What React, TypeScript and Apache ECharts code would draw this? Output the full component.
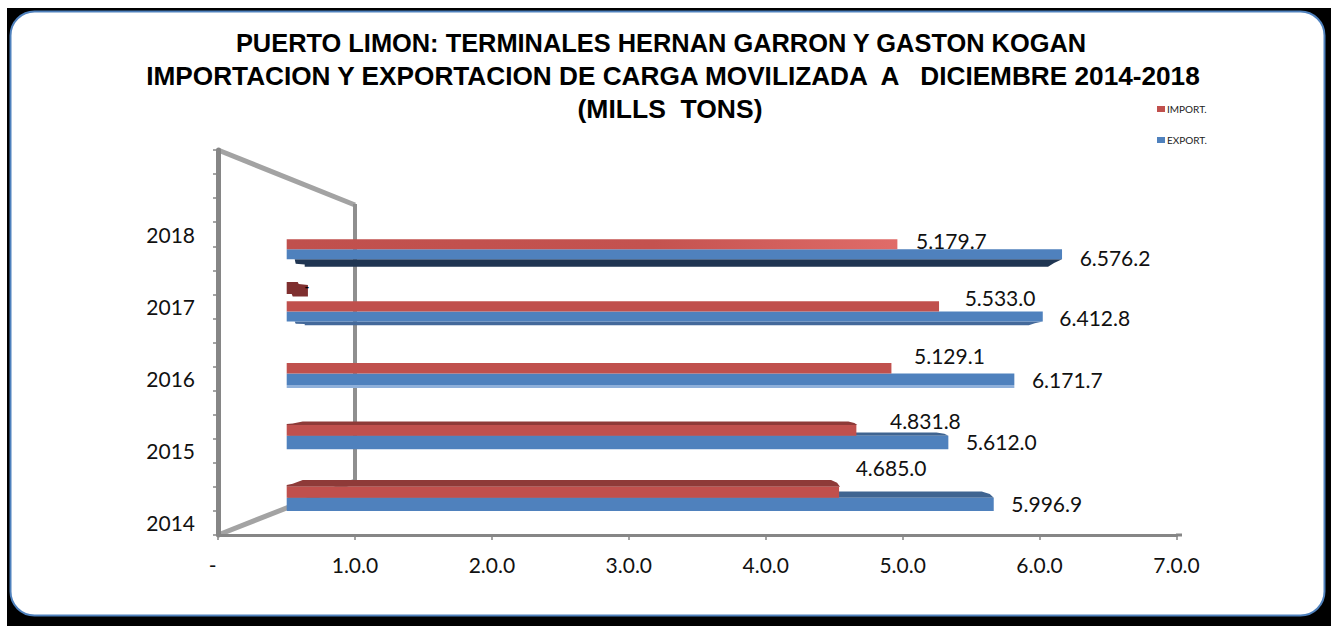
import React, { useEffect, useRef } from "react";
import * as echarts from "echarts";

const years = ["2014", "2015", "2016", "2017", "2018"];
const importValues = [4685.0, 4831.8, 5129.1, 5533.0, 5179.7];
const exportValues = [5996.9, 5612.0, 6171.7, 6412.8, 6576.2];
const strayValues = [180];
const titleLines = [
  "PUERTO LIMON: TERMINALES HERNAN GARRON Y GASTON KOGAN",
  "IMPORTACION Y EXPORTACION DE CARGA MOVILIZADA  A   DICIEMBRE 2014-2018",
  "(MILLS  TONS)",
];
const xTicks = [0, 1000, 2000, 3000, 4000, 5000, 6000, 7000];

// Hand-placed data-label nudges of the original, per year (dx from bar end, dy from band centre)
const importLabelNudge = [[52, -30], [69, -15], [58, -18.5], [61, -14], [54, -8.5]];
const exportLabelNudge = [[53, 5.5], [53, 6.3], [53, 5.8], [52, 6], [53, 8.3]];

// Three wall-axis slots per year, plus the spare one above 2018
const axisSlots = years.flatMap((y) => [y, "", ""]).concat([""]);

const RED = "#c0504d";
const BLUE = "#4f81bd";
const RED_TOP = "#8e3a38";
const BLUE_TOP = "#3f6491";
const BLUE_UNDER = ["", "", "#8fb0da", "#44699a", "#1f3552"];
const LABEL_FONT = "Lato";
const NEUTRAL_Y = 373.5;

const fmt = (v: number) => {
  const s = v.toFixed(1);
  return s.slice(0, -5) + "." + s.slice(-5);
};

const labelEl = (text: string, x: number, y: number) => ({
  type: "text",
  style: {
    text,
    x,
    y,
    align: "center",
    verticalAlign: "middle",
    font: `21px ${LABEL_FONT}`,
    fill: "#111",
  },
});

const poly = (points: number[][], fill: any) => ({
  type: "polygon",
  shape: { points },
  style: { fill },
});

const renderImport = (params: any, api: any) => {
  const i = params.dataIndex;
  const end = api.coord([api.value(0), api.value(1)]);
  const x0 = api.coord([0, api.value(1)])[0];
  const cy = end[1];
  const h = 10 + (cy - 249) * 0.004;
  const top = cy - h;
  const d = Math.max(0, (cy - NEUTRAL_Y) * 0.054);
  const children: any[] = [];
  if (d > 0) {
    children.push(
      poly(
        [[x0, top], [x0, top - d * 0.25], [x0 + 6, top - d * 0.45], [x0 + 16, top - d], [end[0] - 8, top - d], [end[0] - 2, top - d * 0.6], [end[0] + 1, top]],
        RED_TOP
      )
    );
  }
  const fill =
    i === 4
      ? new echarts.graphic.LinearGradient(0, 0, 1, 0, [
          { offset: 0, color: RED },
          { offset: 0.6, color: "#c4524f" },
          { offset: 1, color: "#e06c69" },
        ])
      : RED;
  children.push({ type: "rect", shape: { x: x0, y: top, width: end[0] - x0, height: h }, style: { fill } });
  const n = importLabelNudge[i];
  children.push(labelEl(fmt(api.value(0)), end[0] + n[0], cy + n[1]));
  return { type: "group", children };
};

const renderExport = (params: any, api: any) => {
  const i = params.dataIndex;
  const end = api.coord([api.value(0), api.value(1)]);
  const x0 = api.coord([0, api.value(1)])[0];
  const cy = end[1];
  const h = i === 0 ? 13.3 : i === 1 ? 13.6 : i === 2 ? 11.5 : 10;
  const bottom = cy + h;
  const children: any[] = [];
  const k = cy - NEUTRAL_Y;
  if (k > 0) {
    const d = k * 0.05;
    children.push(
      poly(
        [[x0, cy], [x0 + 16, cy - d], [end[0] - 12, cy - d], [end[0] - 4, cy - d * 0.6], [end[0], cy]],
        BLUE_TOP
      )
    );
  } else if (Math.abs(k) < 1) {
    children.push(poly([[x0, cy], [x0, cy - 1], [end[0] - 11, cy - 1], [end[0], cy]], BLUE_TOP));
  }
  const und = k < 1 ? (k > -1 ? 3 : -k * 0.06) : 0;
  if (und > 0) {
    const col = BLUE_UNDER[i];
    if (k > -1) {
      children.push(poly([[x0, bottom], [x0, bottom + und], [end[0], bottom + und], [end[0], bottom]], col));
    } else {
      children.push(
        poly(
          [[x0 + 8, bottom], [x0 + 9, bottom + und * 0.6], [x0 + 18, bottom + und * 0.7], [x0 + 18, bottom + und], [end[0] - 14, bottom + und], [end[0] - 8, bottom + und * 0.5], [end[0], bottom]],
          col
        )
      );
    }
  }
  children.push({ type: "rect", shape: { x: x0, y: cy, width: end[0] - x0, height: h }, style: { fill: BLUE } });
  const n = exportLabelNudge[i];
  children.push(labelEl(fmt(api.value(0)), end[0] + n[0], cy + n[1]));
  return { type: "group", children };
};

const renderStray = (_params: any, api: any) => {
  const end = api.coord([api.value(0), api.value(1)]);
  const x0 = api.coord([0, api.value(1)])[0];
  const y = end[1] - 29.5;
  return {
    type: "group",
    children: [
      poly(
        [[x0, y], [x0 + 11, y], [x0 + 12, y + 2], [end[0], y + 3], [end[0], y + 14.5], [x0 + 6, y + 14.5], [x0 + 5, y + 12], [x0, y + 12]],
        "#7f2f2f"
      ),
      {
        type: "text",
        style: { text: "-", x: end[0] - 1, y: y + 5, align: "center", verticalAlign: "middle", font: `bold 13px ${LABEL_FONT}`, fill: "#000" },
      },
    ],
  };
};

const titleStyle = (fontSize: number) => ({
  fontFamily: "Liberation Sans",
  fontWeight: "bold" as const,
  fontSize,
  color: "#000",
});

export default function App() {
  const ref = useRef<HTMLDivElement>(null);
  useEffect(() => {
    document.body.style.margin = "0";
    document.body.style.background = "#fff";
    const chart = echarts.init(ref.current!, undefined, { renderer: "svg" });
    chart.setOption({
      animation: false,
      backgroundColor: "#ffffff",
      title: [
        { text: titleLines[0], left: 661, top: 43, textAlign: "center", textVerticalAlign: "middle", textStyle: titleStyle(25.4), padding: 0 },
        { text: titleLines[1], left: 673, top: 76, textAlign: "center", textVerticalAlign: "middle", textStyle: titleStyle(26.2), padding: 0 },
        { text: titleLines[2], left: 670, top: 109, textAlign: "center", textVerticalAlign: "middle", textStyle: titleStyle(26.5), padding: 0 },
      ],
      legend: {
        orient: "vertical",
        left: 1157,
        top: 104,
        padding: 0,
        itemWidth: 8,
        itemHeight: 6,
        itemGap: 21,
        selectedMode: false,
        icon: "rect",
        data: ["IMPORT.", "EXPORT."],
        textStyle: { fontFamily: LABEL_FONT, fontSize: 10, color: "#222", padding: [0, 0, 0, -3] },
      },
      graphic: [
        { type: "rect", z: -5, silent: true, shape: { x: 7, y: 8, width: 1324, height: 618 }, style: { fill: "#000" } },
        {
          type: "rect",
          z: -4,
          silent: true,
          shape: { x: 10.5, y: 11.5, width: 1314, height: 604, r: 24 },
          style: { fill: "#fff", stroke: "#4f81bd", lineWidth: 2 },
        },
        {
          type: "polyline",
          z: -3,
          silent: true,
          shape: { points: [[218, 150], [355, 205]] },
          style: { fill: "none", stroke: "#a3a3a3", lineWidth: 5 },
        },
        {
          type: "polyline",
          z: -3,
          silent: true,
          shape: { points: [[218, 535], [355, 481]] },
          style: { fill: "none", stroke: "#a3a3a3", lineWidth: 5 },
        },
        {
          type: "line",
          z: -3,
          silent: true,
          shape: { x1: 355, y1: 204, x2: 355, y2: 482 },
          style: { stroke: "#8f8f8f", lineWidth: 4 },
        },
        {
          type: "line",
          z: -3,
          silent: true,
          shape: { x1: 1176, y1: 535, x2: 1182, y2: 535 },
          style: { stroke: "#868686", lineWidth: 3 },
        },
      ],
      grid: [
        { left: 218, top: 150, width: 958.5, height: 385 },
        { left: 286.7, top: 218.3, width: 825.3, height: 310.5 },
      ],
      xAxis: [
        {
          type: "value",
          gridIndex: 0,
          min: xTicks[0],
          max: xTicks[xTicks.length - 1],
          interval: 1000,
          splitLine: { show: false },
          axisLine: { show: true, lineStyle: { color: "#868686", width: 3 } },
          axisTick: { show: true, length: 5, lineStyle: { color: "#868686", width: 1.5 } },
          axisLabel: {
            margin: 19,
            color: "#111",
            fontFamily: LABEL_FONT,
            fontSize: 21,
            formatter: (v: number) => (v === 0 ? "-  " : `${v / 1000}.0.0`),
          },
        },
        { type: "value", gridIndex: 1, min: 0, max: 7000, show: false },
      ],
      yAxis: [
        {
          type: "category",
          gridIndex: 0,
          data: axisSlots,
          boundaryGap: true,
          axisLine: { show: true, lineStyle: { color: "#868686", width: 5 } },
          axisTick: { show: true, length: 5, interval: 0, lineStyle: { color: "#868686", width: 1.5 } },
          axisLabel: { interval: 0, margin: 23, color: "#111", fontFamily: LABEL_FONT, fontSize: 21 },
        },
        { type: "category", gridIndex: 1, data: years, show: false },
      ],
      series: [
        {
          name: "EXPORT.",
          type: "custom",
          xAxisIndex: 1,
          yAxisIndex: 1,
          z: 3,
          itemStyle: { color: BLUE },
          encode: { x: 0, y: 1 },
          data: exportValues.map((v, i) => [v, years[i]]),
          renderItem: renderExport,
        },
        {
          name: "IMPORT.",
          type: "custom",
          xAxisIndex: 1,
          yAxisIndex: 1,
          z: 4,
          itemStyle: { color: RED },
          encode: { x: 0, y: 1 },
          data: importValues.map((v, i) => [v, years[i]]),
          renderItem: renderImport,
        },
        {
          name: "stray",
          type: "custom",
          xAxisIndex: 1,
          yAxisIndex: 1,
          z: 4,
          encode: { x: 0, y: 1 },
          data: strayValues.map((v) => [v, "2017"]),
          renderItem: renderStray,
        },
      ],
    });
    return () => chart.dispose();
  }, []);
  return <div ref={ref} style={{ position: "fixed", left: 0, top: 0, width: 1331, height: 626 }} />;
}
